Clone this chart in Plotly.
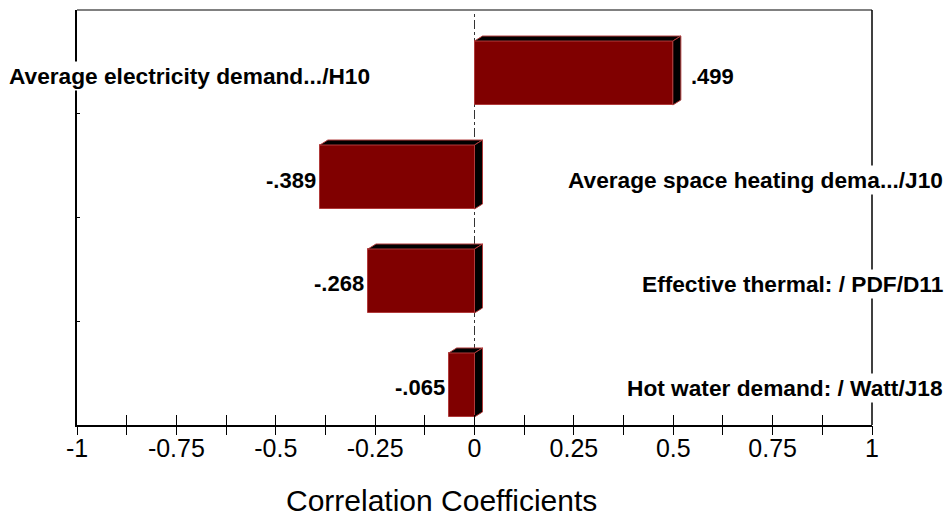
import plotly.graph_objects as go

# ---- data ----
categories = [
    "Average electricity demand.../H10",
    "Average space heating dema.../J10",
    "Effective thermal: / PDF/D11",
    "Hot water demand: / Watt/J18",
]
values = [0.499, -0.389, -0.268, -0.065]
tick_vals = [-1, -0.875, -0.75, -0.625, -0.5, -0.375, -0.25, -0.125, 0,
             0.125, 0.25, 0.375, 0.5, 0.625, 0.75, 0.875, 1]
tick_labels = ["-1", "", "-0.75", "", "-0.5", "", "-0.25", "", "0",
               "", "0.25", "", "0.5", "", "0.75", "", "1"]
x_title = "Correlation Coefficients"

# ---- style ----
W, H = 946, 517
ML, MR, MT, MB = 77, 74, 10, 92
plot_w = W - ML - MR
plot_h = H - MT - MB
x_range = [-1, 1]
y_range = [3.385, -0.606]
bar_w = 0.615
front = "#800000"
edge = "#b03a3a"
FONT = "Liberation Sans, Arial, sans-serif"

px_per_x = plot_w / (x_range[1] - x_range[0])
px_per_y = plot_h / abs(y_range[0] - y_range[1])
dx = 8 / px_per_x
dy = 5 / px_per_y

pos = list(range(len(categories)))

fig = go.Figure()
fig.add_trace(go.Bar(
    x=values, y=pos, orientation="h", width=bar_w,
    marker=dict(color=front, line=dict(color=edge, width=1)),
    hoverinfo="skip", showlegend=False,
))

# 3D faces (top and side) built from the same values
for p, v in zip(pos, values):
    x0, x1 = min(0, v), max(0, v)
    yt, yb = p - bar_w / 2, p + bar_w / 2
    fig.add_trace(go.Scatter(
        x=[x0, x0 + dx, x1 + dx, x1, x0],
        y=[yt, yt - dy, yt - dy, yt, yt],
        mode="lines", fill="toself", fillcolor="#000000",
        line=dict(color=edge, width=1), hoverinfo="skip", showlegend=False))
    fig.add_trace(go.Scatter(
        x=[x1, x1 + dx, x1 + dx, x1, x1],
        y=[yt, yt - dy, yb - dy, yb, yt],
        mode="lines", fill="toself", fillcolor="#000000",
        line=dict(color=edge, width=1), hoverinfo="skip", showlegend=False))

LBL = 22.7
VAL = 22
annotations = []
for p, v, c in zip(pos, values, categories):
    txt = f"{v:.3f}".replace("0.", ".", 1)
    if v >= 0:
        annotations.append(dict(x=v + dx, y=p, xref="x", yref="y", text=txt,
                                xanchor="left", xshift=8, yshift=-3, showarrow=False,
                                font=dict(family=FONT, size=VAL, color="black", weight="bold")))
        annotations.append(dict(x=(372 - ML) / plot_w, y=p, xref="paper", yref="y", text=c,
                                xanchor="right", yshift=-3, showarrow=False, bgcolor="white",
                                font=dict(family=FONT, size=LBL, color="black", weight="bold")))
    else:
        annotations.append(dict(x=v, y=p, xref="x", yref="y", text=txt,
                                xanchor="right", xshift=-2, yshift=-3, showarrow=False,
                                font=dict(family=FONT, size=VAL, color="black", weight="bold")))
        annotations.append(dict(x=(945 - ML) / plot_w, y=p, xref="paper", yref="y", text=c,
                                xanchor="right", yshift=-3, showarrow=False, bgcolor="white",
                                font=dict(family=FONT, size=LBL, color="black", weight="bold")))

annotations.append(dict(x=(441 - ML) / plot_w, y=(MT + plot_h - 500) / plot_h,
                        xref="paper", yref="paper", text=x_title, showarrow=False,
                        xanchor="center", yanchor="middle",
                        font=dict(family=FONT, size=30, color="black")))

shapes = [
    dict(type="line", xref="x", yref="paper", x0=0, x1=0, y0=0, y1=1,
         line=dict(color="#333333", width=1, dash="dashdot"), layer="below"),
    dict(type="line", xref="paper", yref="paper", x0=0, x1=1, y0=1, y1=1,
         line=dict(color="#808080", width=2), layer="below"),
    dict(type="line", xref="paper", yref="paper", x0=1, x1=1, y0=0, y1=1,
         line=dict(color="black", width=1.5), layer="below"),
]

fig.update_layout(
    width=W, height=H,
    margin=dict(l=ML, r=MR, t=MT, b=MB, pad=0),
    plot_bgcolor="white", paper_bgcolor="white",
    bargap=0,
    xaxis=dict(range=x_range, tickvals=tick_vals, ticktext=tick_labels,
               ticks="",
               showline=True, linecolor="black", linewidth=2,
               showgrid=False, zeroline=False,
               tickfont=dict(family=FONT, size=25, color="black")),
    xaxis2=dict(range=x_range, overlaying="x", anchor="y", side="bottom",
                tickvals=tick_vals, showticklabels=False,
                ticks="outside", ticklen=9, tickwidth=1, tickcolor="black",
                showline=False, showgrid=False, zeroline=False),
    xaxis3=dict(range=x_range, overlaying="x", anchor="y", side="bottom",
                tickvals=tick_vals, showticklabels=False,
                ticks="inside", ticklen=10, tickwidth=1, tickcolor="black",
                showline=False, showgrid=False, zeroline=False),
    yaxis=dict(range=y_range, showline=True, linecolor="black", linewidth=2,
               tickvals=[0.394, 1.394, 2.394], showticklabels=False,
               ticks="inside", ticklen=3, tickcolor="black",
               showgrid=False, zeroline=False),
    annotations=annotations,
    shapes=shapes,
)
fig.add_trace(go.Scatter(x=[None], y=[None], xaxis="x2", yaxis="y",
                         showlegend=False, hoverinfo="skip"))
fig.add_trace(go.Scatter(x=[None], y=[None], xaxis="x3", yaxis="y",
                         showlegend=False, hoverinfo="skip"))

fig.write_html("out.html")
